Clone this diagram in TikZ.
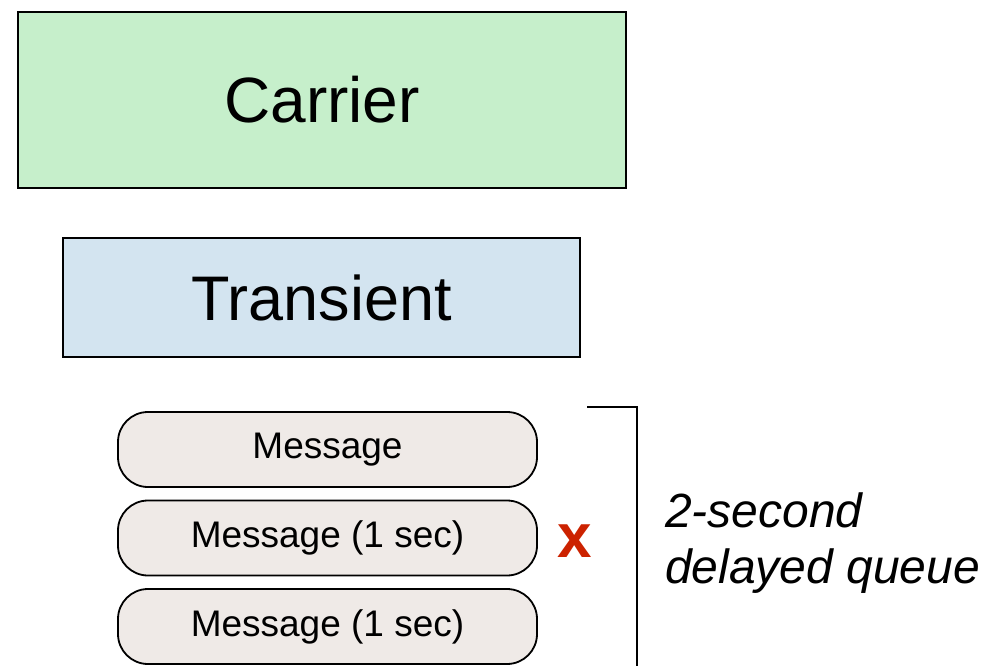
\documentclass[tikz,border=0pt]{standalone}
\usepackage{fontspec}
\setmainfont{Liberation Sans}
\begin{document}
\begin{tikzpicture}[x=1pt,y=-1pt,
  bigbox/.style={draw=black, line width=2pt, minimum width=#1, inner sep=0pt},
  msgbox/.style={draw=black, line width=1.8pt, rounded corners=30pt, fill=msgfill,
     minimum width=419pt, minimum height=75pt, inner sep=0pt, font=\fontsize{37}{40}\selectfont},
  qlabel/.style={anchor=base west, inner sep=0pt, font=\fontsize{48}{52}\selectfont\itshape}]
\definecolor{carrierfill}{HTML}{C6EFCB}
\definecolor{transfill}{HTML}{D3E4F0}
\definecolor{msgfill}{HTML}{EFEAE7}
\definecolor{xred}{HTML}{CC2200}
\useasboundingbox (0,0) rectangle (995,666);
\node[bigbox=608pt, minimum height=176pt, fill=carrierfill, font=\fontsize{64}{70}\selectfont] (carrier) at (322,100) {Carrier};
\node[bigbox=517pt, minimum height=119pt, fill=transfill, font=\fontsize{63}{70}\selectfont] (transient) at (321.5,297.5) {Transient};
\node[msgbox] (m1) at (327.5,449.5) {Message};
\node[msgbox] (m2) at (327.5,538) {Message (1 sec)};
\node[msgbox] (m3) at (327.5,626.5) {Message (1 sec)};
\node[text=xred, font=\fontsize{62}{66}\bfseries, inner sep=0pt] (x) at (575,541) {x};
\coordinate (bt) at (587,407);
\coordinate (bc) at (637,407);
\coordinate (bb) at (637,668);
\draw[line width=2pt] (bt) -- (bc) -- (bb);
\node[qlabel] (q1) at (665,527) {2-second};
\node[qlabel] (q2) at (665,583) {delayed queue};
\end{tikzpicture}
\end{document}
